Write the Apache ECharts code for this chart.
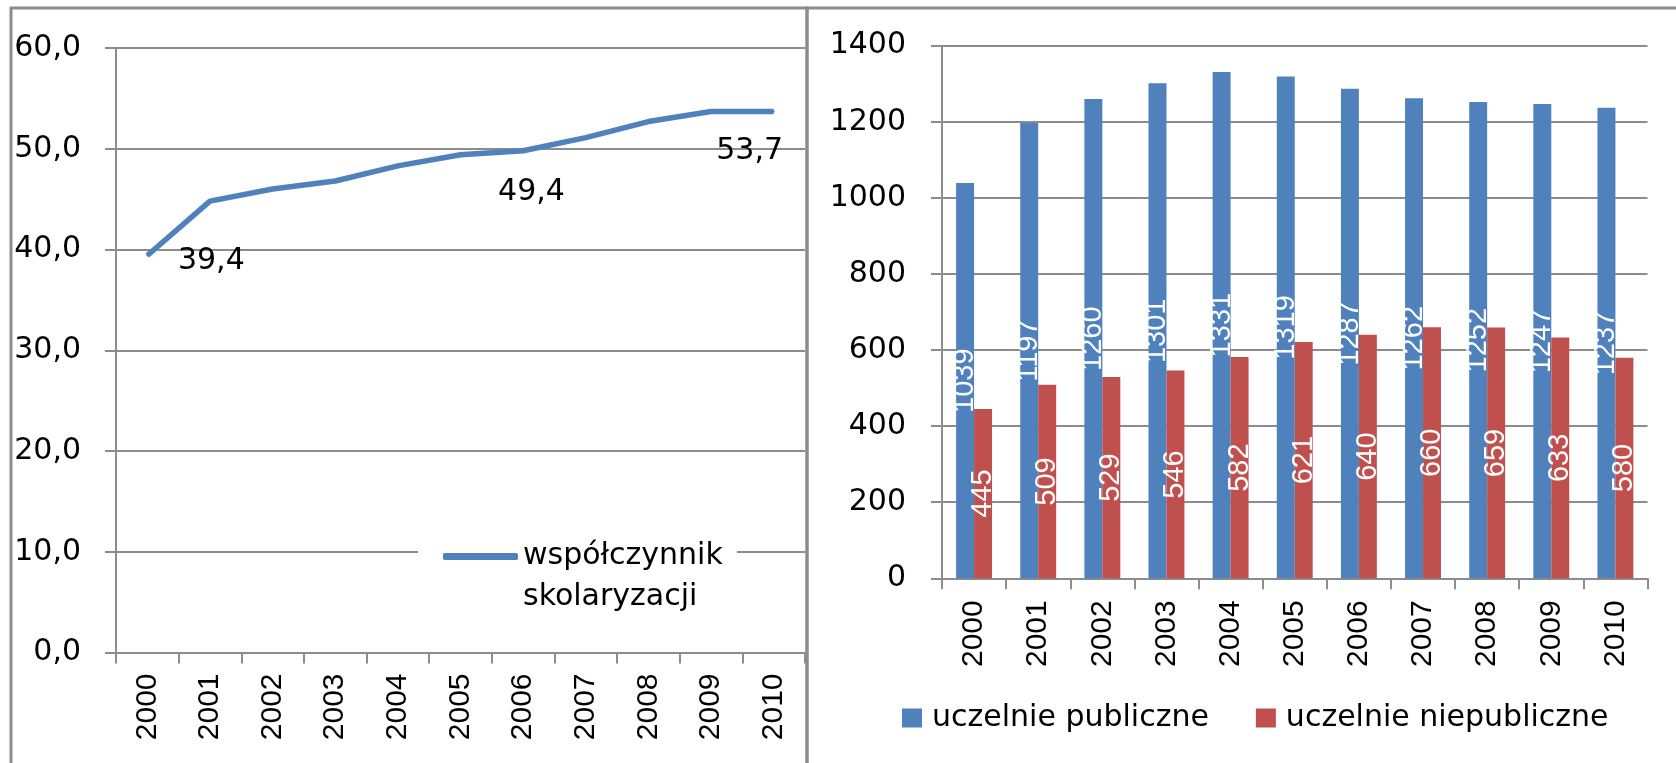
<!DOCTYPE html>
<html>
<head>
<meta charset="utf-8">
<script src="https://cdn.jsdelivr.net/npm/echarts@6/dist/echarts.min.js"></script>
<style>
html,body{margin:0;padding:0;background:#fff;}
#chart{width:1676px;height:763px;}
</style>
</head>
<body>
<div id="chart"></div>
<script>
const years = ['2000','2001','2002','2003','2004','2005','2006','2007','2008','2009','2010'];
const scholarization = [39.4, 44.8, 46.0, 46.8, 48.3, 49.4, 49.8, 51.1, 52.7, 53.7, 53.7];
const labelledPoints = [0, 5, 10];
const publicUni = [1039, 1197, 1260, 1301, 1331, 1319, 1287, 1262, 1252, 1247, 1237];
const privateUni = [445, 509, 529, 546, 582, 621, 640, 660, 659, 633, 580];
const lineName = 'współczynnik skolaryzacji';
const pubName = 'uczelnie publiczne';
const privName = 'uczelnie niepubliczne';

const GRID_COLOR = '#8c8c8c';
const HFONT = 'DejaVu Sans';
const RFONT = 'Liberation Sans';
const HSIZE = 30;
const labelOffsets = {0: [64, 6], 5: [71, 37], 10: [-24, 40]};

const lineData = scholarization.map((v, i) => {
  if (labelledPoints.indexOf(i) >= 0) {
    return {value: v, label: {show: true, position: 'inside', offset: labelOffsets[i]}};
  }
  return {value: v};
});

const chart = echarts.init(document.getElementById('chart'));
const axisLineStyle = {show: true, lineStyle: {color: GRID_COLOR, width: 2}};
const tickStyle = {show: true, length: 11, lineStyle: {color: GRID_COLOR, width: 2}};
chart.setOption({
  animation: false,
  backgroundColor: '#fff',
  graphic: [
    {type: 'rect', z: 0, shape: {x: 11, y: 8, width: 796, height: 790}, style: {fill: 'none', stroke: GRID_COLOR, lineWidth: 3}},
    {type: 'rect', z: 0, shape: {x: 807, y: 8, width: 890, height: 790}, style: {fill: 'none', stroke: GRID_COLOR, lineWidth: 3}}
  ],
  grid: [
    {left: 116, top: 48, width: 689, height: 604.5},
    {left: 942, top: 45.7, width: 705.5, height: 532.6}
  ],
  xAxis: [
    {type: 'category', gridIndex: 0, data: years, boundaryGap: true,
     axisLine: axisLineStyle, axisTick: tickStyle,
     axisLabel: {rotate: 90, margin: 21, color: '#000', fontFamily: RFONT, fontSize: 30}},
    {type: 'category', gridIndex: 1, data: years, boundaryGap: true,
     axisLine: axisLineStyle, axisTick: tickStyle,
     axisLabel: {rotate: 90, margin: 22, color: '#000', fontFamily: RFONT, fontSize: 30}}
  ],
  yAxis: [
    {type: 'value', gridIndex: 0, min: 0, max: 60, interval: 10,
     axisLine: axisLineStyle, axisTick: tickStyle,
     splitLine: {show: true, lineStyle: {color: GRID_COLOR, width: 2}},
     axisLabel: {margin: 35, color: '#000', fontFamily: HFONT, fontSize: HSIZE,
       formatter: v => v.toFixed(1).replace('.', ',')}},
    {type: 'value', gridIndex: 1, min: 0, max: 1400, interval: 200,
     axisLine: axisLineStyle, axisTick: tickStyle,
     splitLine: {show: true, lineStyle: {color: GRID_COLOR, width: 2}},
     axisLabel: {margin: 36, color: '#000', fontFamily: HFONT, fontSize: HSIZE,
       formatter: v => String(v)}}
  ],
  legend: [
    {data: [lineName], left: 418, top: 491, orient: 'vertical', padding: [4, 14, 4, 25],
     backgroundColor: '#fff', icon: 'roundRect', itemWidth: 75, itemHeight: 7,
     formatter: n => '\n' + n.replace(' ', '\n'),
     textStyle: {fontFamily: HFONT, fontSize: HSIZE, color: '#000', lineHeight: 41}},
    {data: [pubName, privName], left: 902, top: 703, padding: 0, icon: 'rect',
     itemWidth: 20, itemHeight: 19, itemGap: 47,
     textStyle: {fontFamily: HFONT, fontSize: HSIZE, color: '#000', padding: [0, 0, 0, 5]}}
  ],
  series: [
    {name: lineName, type: 'line', xAxisIndex: 0, yAxisIndex: 0, data: lineData,
     symbol: 'circle', symbolSize: 2, showSymbol: true,
     itemStyle: {color: '#4F81BD'},
     lineStyle: {color: '#4F81BD', width: 5.5},
     label: {show: false, color: '#000', fontFamily: HFONT, fontSize: HSIZE,
       formatter: p => p.value.toFixed(1).replace('.', ',')}},
    {name: pubName, type: 'bar', xAxisIndex: 1, yAxisIndex: 1, data: publicUni,
     barGap: '0%', barCategoryGap: '44%', itemStyle: {color: '#4F81BD'},
     label: {show: true, position: 'inside', rotate: 90, color: '#fff', fontFamily: RFONT, fontSize: 29}},
    {name: privName, type: 'bar', xAxisIndex: 1, yAxisIndex: 1, data: privateUni,
     barGap: '0%', barCategoryGap: '44%', itemStyle: {color: '#C0504D'},
     label: {show: true, position: 'inside', rotate: 90, color: '#fff', fontFamily: RFONT, fontSize: 29}}
  ]
});
</script>
</body>
</html>
